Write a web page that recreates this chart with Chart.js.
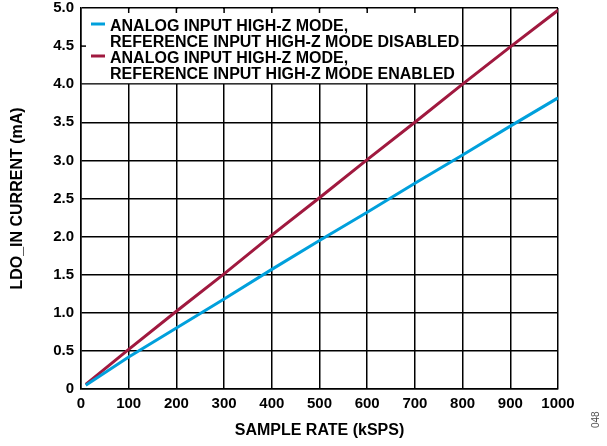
<!DOCTYPE html>
<html>
<head>
<meta charset="utf-8">
<script src="https://cdn.jsdelivr.net/npm/chart.js@4.4.0/dist/chart.umd.min.js"></script>
<style>
  html, body { margin: 0; padding: 0; background: #fff; }
  #wrap { position: relative; width: 607px; height: 446px; }
  #tag { position: absolute; left: 590px; top: 428px; font: 10px "Liberation Sans", Arial, sans-serif; color: #555;
         transform: rotate(-90deg); transform-origin: left top; }
</style>
</head>
<body>
<div id="wrap">
  <canvas id="myChart" width="607" height="446"></canvas>
  <div id="tag">048</div>
</div>
<script>
// sample rate (kSPS)
var sampleRate = [10, 100, 200, 300, 400, 500, 600, 700, 800, 900, 1000];
// LDO_IN current (mA)
var highZDisabled = [0.05, 0.42, 0.80, 1.18, 1.57, 1.95, 2.32, 2.70, 3.07, 3.45, 3.82];
var highZEnabled = [0.06, 0.52, 1.02, 1.51, 2.02, 2.51, 3.01, 3.50, 4.00, 4.49, 4.97];
var legendLabels = [
    ['ANALOG INPUT HIGH-Z MODE,', 'REFERENCE INPUT HIGH-Z MODE DISABLED'],
    ['ANALOG INPUT HIGH-Z MODE,', 'REFERENCE INPUT HIGH-Z MODE ENABLED']
];
var blue = '#00a0dc';
var red = '#a0193f';

function toPoints(xs, ys) {
    return xs.map(function (x, i) { return { x: x, y: ys[i] }; });
}

var FONT = '"Liberation Sans", Arial, sans-serif';

// white legend box over the grid, like the original figure
var legendBox = {
    id: 'legendBox',
    beforeDatasetsDraw: function (chart) {
        var c = chart.ctx, a = chart.chartArea;
        var xs = chart.scales.x, ys = chart.scales.y;
        var right = xs.getPixelForValue(800) - 2;
        var bottom = ys.getPixelForValue(4.0) - 1;
        c.save();
        c.fillStyle = '#fff';
        c.fillRect(a.left + 1, a.top + 1, right - a.left - 1, bottom - a.top - 1);
        // little tick stubs left on the frame
        c.strokeStyle = '#000';
        c.lineWidth = 1.5;
        [100, 200, 300, 400, 500, 600, 700].forEach(function (v) {
            var px = xs.getPixelForValue(v);
            c.beginPath(); c.moveTo(px, a.top); c.lineTo(px, a.top + 5); c.stroke();
        });
        var py = ys.getPixelForValue(4.5);
        c.beginPath(); c.moveTo(a.left, py); c.lineTo(a.left + 5, py); c.stroke();
        // entries
        var colors = [blue, red];
        c.font = 'bold 16px ' + FONT;
        c.textBaseline = 'middle';
        c.fillStyle = '#000';
        var y0 = a.top + 16;
        legendLabels.forEach(function (lines, i) {
            var y = y0 + i * 32;
            c.strokeStyle = colors[i];
            c.lineWidth = 3;
            c.beginPath(); c.moveTo(a.left + 10, y); c.lineTo(a.left + 24, y); c.stroke();
            c.fillText(lines[0], a.left + 29, y + 3);
            c.fillText(lines[1], a.left + 29, y + 19);
        });
        c.restore();
    }
};

var ctx = document.getElementById('myChart').getContext('2d');
var myChart = new Chart(ctx, {
    type: 'scatter',
    data: {
        datasets: [{
            data: toPoints(sampleRate, highZDisabled),
            borderColor: blue,
            backgroundColor: blue,
            borderWidth: 3,
            showLine: true,
            pointRadius: 0
        }, {
            data: toPoints(sampleRate, highZEnabled),
            borderColor: red,
            backgroundColor: red,
            borderWidth: 3,
            showLine: true,
            pointRadius: 0
        }]
    },
    options: {
        responsive: false,
        animation: false,
        layout: { padding: { top: 8, right: 49, left: 0, bottom: 0 } },
        plugins: { legend: { display: false }, tooltip: { enabled: false } },
        scales: {
            x: {
                type: 'linear',
                min: 0, max: 1000,
                afterFit: function (s) { s.height = 57; s.paddingRight = 0; },
                ticks: { stepSize: 100, color: '#000', padding: 6,
                         callback: function (v) { return String(v); },
                         font: { family: FONT, size: 15, weight: 'bold' } },
                grid: { color: '#000', lineWidth: 1.5, drawTicks: false },
                border: { color: '#000', width: 1.5 },
                title: { display: true, text: 'SAMPLE RATE (kSPS)', color: '#000', padding: { top: 4, bottom: 6 },
                         font: { family: FONT, size: 16, weight: 'bold' } }
            },
            y: {
                min: 0, max: 5,
                afterFit: function (s) { s.width = 81; s.paddingTop = 0; },
                ticks: { stepSize: 0.5, color: '#000', padding: 7,
                         callback: function (v) { return v === 0 ? '0' : v.toFixed(1); },
                         font: { family: FONT, size: 15, weight: 'bold' } },
                grid: { color: '#000', lineWidth: 1.5, drawTicks: false },
                border: { color: '#000', width: 1.5 },
                title: { display: true, text: 'LDO_IN CURRENT (mA)', color: '#000', padding: { top: 8, bottom: 0 },
                         font: { family: FONT, size: 16, weight: 'bold' } }
            }
        }
    },
    plugins: [legendBox]
});
</script>
</body>
</html>
